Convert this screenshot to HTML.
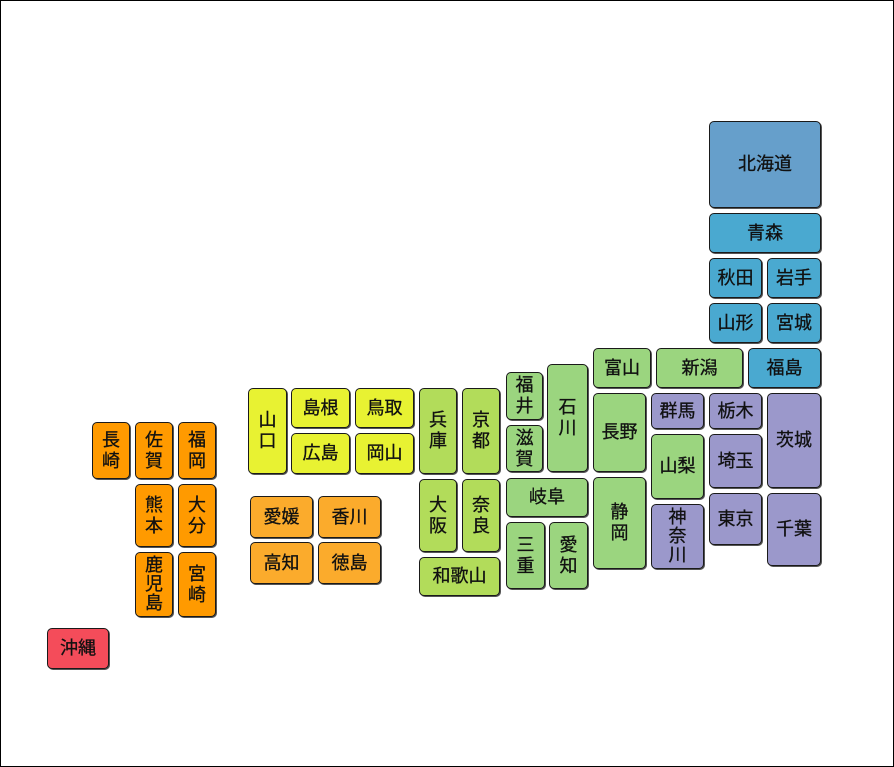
<!DOCTYPE html>
<html><head><meta charset="utf-8"><style>
html,body{margin:0;padding:0;background:#fff}
#c{position:relative;box-sizing:border-box;width:894px;height:767px;border:1px solid #000;overflow:hidden}
.b{position:absolute;margin:-1px 0 0 -1px;box-sizing:border-box;border:1.5px solid #1a1a1a;border-radius:5px;display:flex;align-items:center;justify-content:center;text-align:center;font-family:"Liberation Sans","Noto Sans CJK JP",sans-serif;font-size:18px;line-height:21px;color:#111;box-shadow:1px 1px 0 #555;-webkit-text-stroke:0.3px #111}
.y{background:#e8f232}.o{background:#fbab2c}.k{background:#b2dc5a}.g{background:#9bd57f}.p{background:#9b98cb}.t{background:#4aa9d0}.h{background:#669fcb}.q{background:#ff9a00}.r{background:#f44c5a}
</style></head><body><div id="c">
<div class="b h" style="left:709px;top:121px;width:112px;height:87px">北海道</div>
<div class="b t" style="left:709px;top:213px;width:112px;height:40px">青森</div>
<div class="b t" style="left:709px;top:258px;width:53px;height:40px">秋田</div>
<div class="b t" style="left:767px;top:258px;width:54px;height:40px">岩手</div>
<div class="b t" style="left:709px;top:303px;width:53px;height:40px">山形</div>
<div class="b t" style="left:767px;top:303px;width:54px;height:40px">宮城</div>
<div class="b t" style="left:748px;top:348px;width:73px;height:40px">福島</div>
<div class="b g" style="left:656px;top:348px;width:87px;height:40px">新潟</div>
<div class="b g" style="left:593px;top:348px;width:58px;height:40px">富山</div>
<div class="b g" style="left:547px;top:364px;width:41px;height:108px">石<br>川</div>
<div class="b g" style="left:506px;top:372px;width:37px;height:48px">福<br>井</div>
<div class="b g" style="left:506px;top:425px;width:37px;height:47px">滋<br>賀</div>
<div class="b k" style="left:419px;top:388px;width:38px;height:86px">兵<br>庫</div>
<div class="b k" style="left:462px;top:388px;width:38px;height:86px">京<br>都</div>
<div class="b y" style="left:248px;top:388px;width:39px;height:86px">山<br>口</div>
<div class="b y" style="left:291px;top:388px;width:59px;height:40px">島根</div>
<div class="b y" style="left:355px;top:388px;width:59px;height:40px">鳥取</div>
<div class="b y" style="left:291px;top:433px;width:59px;height:41px">広島</div>
<div class="b y" style="left:355px;top:433px;width:59px;height:41px">岡山</div>
<div class="b g" style="left:593px;top:393px;width:53px;height:79px">長野</div>
<div class="b p" style="left:651px;top:393px;width:53px;height:36px">群馬</div>
<div class="b p" style="left:709px;top:393px;width:53px;height:36px">栃木</div>
<div class="b p" style="left:767px;top:393px;width:54px;height:95px">茨城</div>
<div class="b g" style="left:651px;top:434px;width:53px;height:65px">山梨</div>
<div class="b p" style="left:709px;top:434px;width:53px;height:54px">埼玉</div>
<div class="b p" style="left:651px;top:504px;width:53px;height:65px;line-height:19px">神<br>奈<br>川</div>
<div class="b p" style="left:709px;top:493px;width:53px;height:52px">東京</div>
<div class="b p" style="left:767px;top:493px;width:54px;height:73px">千葉</div>
<div class="b g" style="left:506px;top:478px;width:82px;height:39px">岐阜</div>
<div class="b g" style="left:506px;top:522px;width:39px;height:67px">三<br>重</div>
<div class="b g" style="left:549px;top:522px;width:39px;height:67px">愛<br>知</div>
<div class="b g" style="left:593px;top:477px;width:53px;height:92px">静<br>岡</div>
<div class="b k" style="left:419px;top:479px;width:38px;height:73px">大<br>阪</div>
<div class="b k" style="left:462px;top:479px;width:38px;height:73px">奈<br>良</div>
<div class="b k" style="left:419px;top:557px;width:81px;height:39px">和歌山</div>
<div class="b o" style="left:250px;top:496px;width:63px;height:42px">愛媛</div>
<div class="b o" style="left:318px;top:496px;width:63px;height:42px">香川</div>
<div class="b o" style="left:250px;top:542px;width:63px;height:42px">高知</div>
<div class="b o" style="left:318px;top:542px;width:63px;height:42px">徳島</div>
<div class="b q" style="left:92px;top:422px;width:38px;height:57px">長<br>崎</div>
<div class="b q" style="left:135px;top:422px;width:38px;height:57px">佐<br>賀</div>
<div class="b q" style="left:178px;top:422px;width:38px;height:57px">福<br>岡</div>
<div class="b q" style="left:135px;top:484px;width:38px;height:63px">熊<br>本</div>
<div class="b q" style="left:178px;top:484px;width:38px;height:63px">大<br>分</div>
<div class="b q" style="left:135px;top:552px;width:38px;height:65px;line-height:19px">鹿<br>児<br>島</div>
<div class="b q" style="left:178px;top:552px;width:38px;height:65px">宮<br>崎</div>
<div class="b r" style="left:47px;top:628px;width:62px;height:41px">沖縄</div>
</div></body></html>
